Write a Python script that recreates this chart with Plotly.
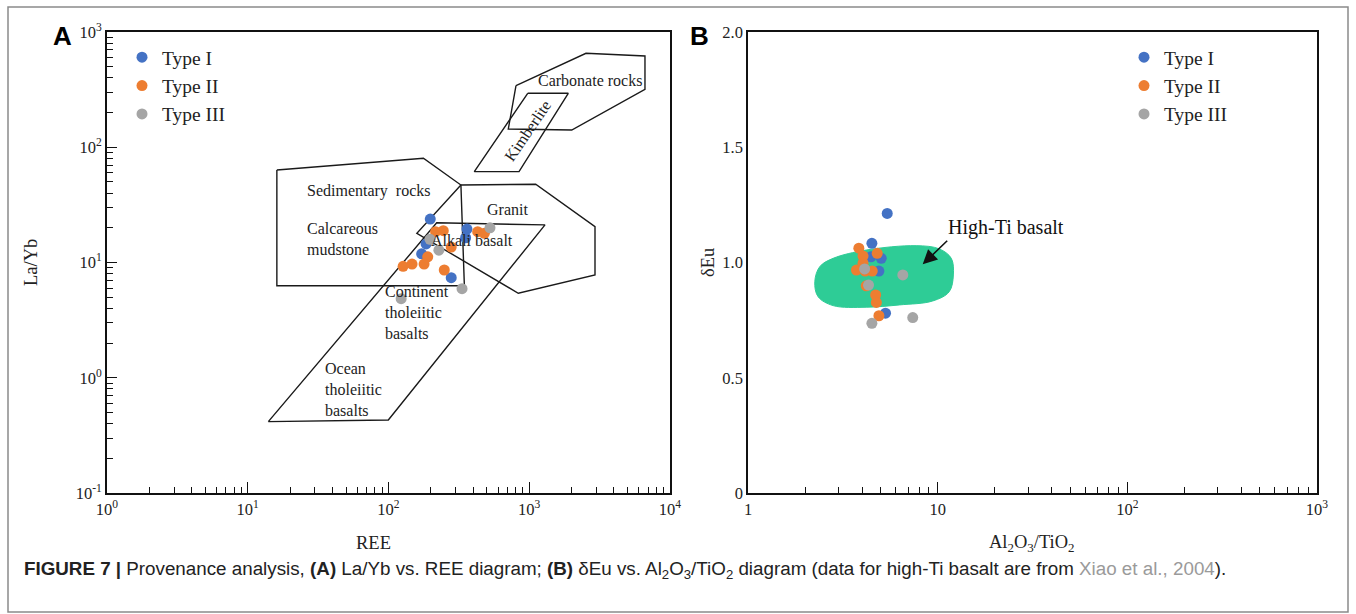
import numpy as np
import plotly.graph_objects as go

W, H = 1356, 614

# ---------------- Panel A: La/Yb vs REE ----------------
a_type1_ree = [198, 361, 353, 185, 172, 279]
a_type1_layb = [23.8, 19.5, 16.4, 14.5, 11.9, 7.38]
a_type2_ree = [216, 245, 430, 480, 279, 190, 179, 147, 127, 249]
a_type2_layb = [18.5, 18.9, 18.5, 17.9, 13.6, 11.2, 9.7, 9.7, 9.27, 8.61]
a_type3_ree = [526, 197, 228, 333, 123]
a_type3_layb = [20.0, 15.9, 12.8, 5.93, 4.85]

# field boundaries (REE, La/Yb)
sed_ree = [16.1, 177, 327, 346, 16.1]
sed_layb = [63.5, 80.2, 47.0, 6.29, 6.29]
granite_ree = [327, 1111, 2932, 2932, 836, 159]
granite_layb = [47.0, 47.7, 20.5, 7.79, 5.41, 17.9]
basalt_ree = [14.0, 99.7, 1294, 220]
basalt_layb = [0.416, 0.430, 21.2, 22.1]
carb_ree = [805, 2530, 6640, 6640, 2004, 710]
carb_layb = [342, 653, 619, 318, 141, 144]
kimb_ree = [975, 1893, 846, 407]
kimb_layb = [294, 294, 61.4, 61.4]

a_x_tickvals = [1, 10, 100, 1000, 10000]
a_x_ticktext = ["10<sup>0</sup>", "10<sup>1</sup>", "10<sup>2</sup>", "10<sup>3</sup>", "10<sup>4</sup>"]
a_y_tickvals = [0.1, 1, 10, 100, 1000]
a_y_ticktext = ["10<sup>-1</sup>", "10<sup>0</sup>", "10<sup>1</sup>", "10<sup>2</sup>", "10<sup>3</sup>"]

# ---------------- Panel B: dEu vs Al2O3/TiO2 ----------------
b_type1_ratio = [4.45, 5.42, 4.50, 5.04, 4.90, 5.31]
b_type1_eu = [1.025, 1.213, 1.083, 1.018, 0.963, 0.780]
b_type2_ratio = [3.84, 4.04, 4.80, 3.73, 4.15, 4.52, 4.20, 4.71, 4.75, 4.90, 4.04]
b_type2_eu = [1.062, 1.028, 1.040, 0.967, 0.963, 0.963, 0.899, 0.859, 0.827, 0.769, 0.997]
b_type3_ratio = [4.12, 6.55, 4.32, 7.39, 4.50]
b_type3_eu = [0.972, 0.946, 0.902, 0.761, 0.736]

hiti_ratio = [2.25, 2.39, 2.81, 4.20, 7.70, 10.2, 11.8, 12.1, 11.5, 9.41, 6.29, 4.20, 2.81, 2.34]
hiti_eu = [0.917, 0.982, 1.018, 1.054, 1.073, 1.059, 1.018, 0.946, 0.873, 0.833, 0.816, 0.806, 0.813, 0.852]

b_x_tickvals = [1, 10, 100, 1000]
b_x_ticktext = ["1", "10", "10<sup>2</sup>", "10<sup>3</sup>"]
b_y_tickvals = [0, 0.5, 1.0, 1.5, 2.0]
b_y_ticktext = ["0", "0.5", "1.0", "1.5", "2.0"]

series_names = ["Type I", "Type II", "Type III"]
colors = ["#4472C4", "#ED7D31", "#A5A5A5"]

SERIF = "Liberation Serif"
SANS = "Liberation Sans"

fig = go.Figure()

def closed(xs, ys):
    return list(xs) + [xs[0]], list(ys) + [ys[0]]

# field polygons
for xs, ys in [(sed_ree, sed_layb), (granite_ree, granite_layb), (basalt_ree, basalt_layb),
               (carb_ree, carb_layb), (kimb_ree, kimb_layb)]:
    cx, cy = closed(xs, ys)
    fig.add_trace(go.Scatter(x=cx, y=cy, mode="lines", line=dict(color="#1a1a1a", width=1.4),
                             showlegend=False, hoverinfo="skip", xaxis="x", yaxis="y"))

a_sets = [(a_type1_ree, a_type1_layb), (a_type2_ree, a_type2_layb), (a_type3_ree, a_type3_layb)]
for (xs, ys), name, c in zip(a_sets, series_names, colors):
    fig.add_trace(go.Scatter(x=xs, y=ys, mode="markers", name=name,
                             marker=dict(color=c, size=11, line=dict(width=0)),
                             xaxis="x", yaxis="y", legend="legend"))

# high-Ti basalt field
cx, cy = closed(hiti_ratio, hiti_eu)
fig.add_trace(go.Scatter(x=cx, y=cy, mode="lines", fill="toself", fillcolor="#2ECC96",
                         line=dict(color="#2ECC96", width=1, shape="spline", smoothing=1.0),
                         showlegend=False, hoverinfo="skip", xaxis="x2", yaxis="y2"))

b_sets = [(b_type1_ratio, b_type1_eu), (b_type2_ratio, b_type2_eu), (b_type3_ratio, b_type3_eu)]
for (xs, ys), name, c in zip(b_sets, series_names, colors):
    fig.add_trace(go.Scatter(x=xs, y=ys, mode="markers", name=name,
                             marker=dict(color=c, size=11, line=dict(width=0)),
                             xaxis="x2", yaxis="y2", legend="legend2"))

tickfont = dict(family=SERIF, size=16.5, color="#222")
base = dict(showline=True, linecolor="#111", linewidth=1.6, mirror=True, showgrid=False,
            zeroline=False, tickfont=tickfont, automargin=False)
minor_log = dict(ticks="inside", ticklen=6, tickcolor="#111", tickwidth=1, dtick="D1", showgrid=False)

ax_a = (107 / W, 670 / W)
ax_b = (748 / W, 1317 / W)
ay = (1 - 493 / H, 1 - 32 / H)

legend_style = dict(xanchor="left", yanchor="top",
                    font=dict(family=SERIF, size=19.5, color="#222"), bgcolor="rgba(0,0,0,0)",
                    itemwidth=30, tracegroupgap=0)

fig.update_layout(
    width=W, height=H, margin=dict(l=0, r=0, t=0, b=0),
    paper_bgcolor="white", plot_bgcolor="white",
    xaxis=dict(base, type="log", range=[0, 4], domain=ax_a, anchor="y",
               tickmode="array", tickvals=a_x_tickvals, ticktext=a_x_ticktext,
               ticks="inside", ticklen=11, tickcolor="#111", minor=minor_log),
    yaxis=dict(base, type="log", range=[-1, 3], domain=ay, anchor="x",
               tickmode="array", tickvals=a_y_tickvals, ticktext=a_y_ticktext,
               ticks="inside", ticklen=10, tickcolor="#111", minor=minor_log),
    xaxis2=dict(base, type="log", range=[0, 3], domain=ax_b, anchor="y2",
                tickmode="array", tickvals=b_x_tickvals, ticktext=b_x_ticktext,
                ticks="inside", ticklen=11, tickcolor="#111", minor=minor_log),
    yaxis2=dict(base, range=[0, 2], domain=ay, anchor="x2",
                tickmode="array", tickvals=b_y_tickvals, ticktext=b_y_ticktext, ticks=""),
    legend=dict(legend_style, x=122 / W, y=1 - 38 / H),
    legend2=dict(legend_style, x=1124 / W, y=1 - 38 / H),
)

ann = []
def paper_text(text, px, py, size, family=SERIF, angle=0, xanchor="center", color="#222"):
    ann.append(dict(text=text, x=px / W, y=1 - py / H, xref="paper", yref="paper",
                    showarrow=False, textangle=angle, xanchor=xanchor, yanchor="middle",
                    font=dict(family=family, size=size, color=color)))

# panel letters
paper_text("<b>A</b>", 62, 36, 26, family=SANS, color="black")
paper_text("<b>B</b>", 700, 36, 26, family=SANS, color="black")
# axis titles
paper_text("La/Yb", 31, 263, 18.5, angle=-90)
paper_text("REE", 373, 543, 18.5)
paper_text("δEu", 708, 263, 18.5, angle=-90)
paper_text("Al<sub>2</sub>O<sub>3</sub>/TiO<sub>2</sub>", 1032, 543, 18.5)

# field labels in panel A (data coordinates)
field_labels = [
    ("Carbonate rocks", 2703, 376, "center", 0),
    ("Kimberlite", 964, 138, "center", -56),
    ("Sedimentary  rocks", 72.7, 41.7, "center", 0),
    ("Granit", 706, 29.1, "center", 0),
    ("Calcareous<br>mudstone", 25.5, 16.0, "left", 0),
    ("Alkali basalt", 392, 15.4, "center", 0),
    ("Continent<br>tholeiitic<br>basalts", 91.4, 3.65, "left", 0),
    ("Ocean<br>tholeiitic<br>basalts", 34.3, 0.798, "left", 0),
]
for t, fx, fy, anchor, ang in field_labels:
    ann.append(dict(text=t, x=np.log10(fx), y=np.log10(fy), xref="x", yref="y",
                    showarrow=False, xanchor=anchor, yanchor="middle", align=anchor,
                    textangle=ang, font=dict(family=SERIF, size=16, color="#222")))

# High-Ti basalt label and arrow (panel B)
ann.append(dict(text="High-Ti basalt", x=np.log10(23.0), y=1.150, xref="x2", yref="y2",
                showarrow=False, font=dict(family=SERIF, size=20, color="#111")))
ann.append(dict(text="", x=np.log10(8.34), y=0.992, xref="x2", yref="y2",
                showarrow=True, ax=26, ay=-25, arrowhead=2, arrowsize=1.8, arrowwidth=1.6,
                arrowcolor="#111"))

# caption
ann.append(dict(
    text="<b>FIGURE 7 |</b> Provenance analysis, <b>(A)</b> La/Yb vs. REE diagram; <b>(B)</b> δEu vs. "
         "Al<sub>2</sub>O<sub>3</sub>/TiO<sub>2</sub> diagram (data for high-Ti basalt are from "
         "<span style='color:#9a9a9a'>Xiao et al., 2004</span>).",
    x=22 / W, y=1 - 570 / H, xref="paper", yref="paper", xanchor="left", yanchor="middle",
    showarrow=False, font=dict(family=SANS, size=18.8, color="#222")))

fig.update_layout(annotations=ann)

# outer frame
fig.add_shape(type="rect", xref="paper", yref="paper", x0=8 / W, x1=1348 / W,
              y0=1 - 612 / H, y1=1 - 7 / H, line=dict(color="#8a8a8a", width=1.5))

fig.write_html("out.html")
